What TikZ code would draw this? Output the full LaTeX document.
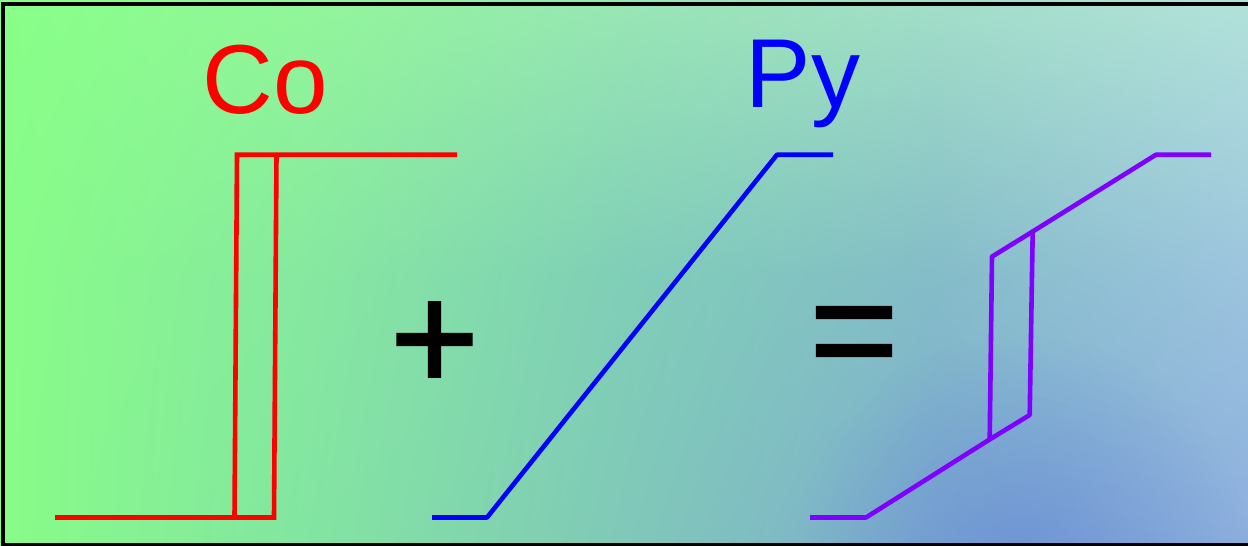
\documentclass[tikz,border=0pt]{standalone}
\usepackage{fontspec}
\setmainfont{Liberation Sans}
\newfontfamily\opfont[FakeBold=1.5]{Liberation Sans}
\usetikzlibrary{fadings,shadings}
\definecolor{gA0}{RGB}{136,255,136}
\definecolor{gB0}{RGB}{146,246,154}
\definecolor{gC0}{RGB}{152,230,180}
\definecolor{gD0}{RGB}{162,222,200}
\definecolor{gE0}{RGB}{178,226,218}
\definecolor{gA1}{RGB}{136,252,136}
\definecolor{gB1}{RGB}{134,232,160}
\definecolor{gC1}{RGB}{128,206,184}
\definecolor{gD1}{RGB}{132,188,200}
\definecolor{gE1}{RGB}{156,196,222}
\definecolor{gA2}{RGB}{136,252,136}
\definecolor{gB2}{RGB}{130,228,162}
\definecolor{gC2}{RGB}{128,200,184}
\definecolor{gD2}{RGB}{126,172,208}
\definecolor{gE2}{RGB}{140,174,222}
\definecolor{spotC}{RGB}{96,128,214}
\definecolor{coRed}{RGB}{255,0,0}
\definecolor{pyBlue}{RGB}{0,0,255}
\definecolor{mixViolet}{RGB}{128,0,255}
\tikzfading[name=spotfade, inner color=transparent!0, outer color=transparent!100]
\begin{document}
\begin{tikzpicture}[x=0.5pt,y=-0.5pt,
  curve/.style={line width=2.3pt},
  lbl/.style={inner sep=0pt, font=\fontsize{49}{50}\selectfont},
  opsign/.style={inner sep=0pt, font=\opfont\fontsize{76}{78}\selectfont},
  frame/.style={draw=black, line width=2pt}]
\useasboundingbox (0,0) rectangle (1248,546);
\clip (0,0) rectangle (1248,546);
% background tiles
\shade[upper left=gA0, upper right=gB0, lower left=gA1, lower right=gB1] (0,0) rectangle (313,274);
\shade[upper left=gB0, upper right=gC0, lower left=gB1, lower right=gC1] (312,0) rectangle (625,274);
\shade[upper left=gC0, upper right=gD0, lower left=gC1, lower right=gD1] (624,0) rectangle (937,274);
\shade[upper left=gD0, upper right=gE0, lower left=gD1, lower right=gE1] (936,0) rectangle (1248,274);
\shade[upper left=gA1, upper right=gB1, lower left=gA2, lower right=gB2] (0,273) rectangle (313,546);
\shade[upper left=gB1, upper right=gC1, lower left=gB2, lower right=gC2] (312,273) rectangle (625,546);
\shade[upper left=gC1, upper right=gD1, lower left=gC2, lower right=gD2] (624,273) rectangle (937,546);
\shade[upper left=gD1, upper right=gE1, lower left=gD2, lower right=gE2] (936,273) rectangle (1248,546);
\fill[spotC, fill opacity=0.55, path fading=spotfade] (1020,565) circle (230);
\draw[frame] (3,3.5) rectangle (1252,545);
% labels
\node[lbl, text=coRed, anchor=base] (co) at (265.5,113) {Co};
\node[lbl, text=pyBlue, anchor=base] (py) at (803,107) {Py};
\node[opsign, anchor=base] (plus) at (434.5,390) {+};
\node[opsign, anchor=base] (eq) at (854,381.5) {=};
% Co loop
\draw[curve, coRed] (55,517.5) -- (274,517.5) -- (276.5,154.7);
\draw[curve, coRed] (457,154.7) -- (237,154.7) -- (234.5,517.5);
% Py curve
\draw[curve, pyBlue, line join=round] (432,517.5) -- (487,517.5) -- (777,154.7) -- (833,154.7);
% sum loop
\draw[curve, mixViolet, line join=round] (810,517.5) -- (866,517.5) -- (989.7,439.4) -- (1029.7,415) -- (1032.7,231.5) -- (1156,154.7) -- (1211,154.7);
\draw[curve, mixViolet, line join=round] (989.7,439.4) -- (992,256.6) -- (1032.7,231.5);
\end{tikzpicture}
\end{document}
